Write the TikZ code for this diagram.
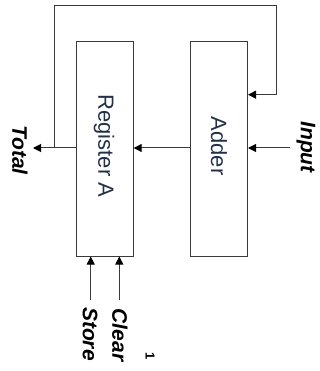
\documentclass[tikz,border=0pt]{standalone}
\usepackage{fontspec}
\setmainfont{Liberation Sans}
\usetikzlibrary{arrows.meta}
\definecolor{linec}{HTML}{3A3A3A}
\definecolor{blocktext}{HTML}{22304A}
\begin{document}
\begin{tikzpicture}[x=1pt,y=-1pt,
  blockbox/.style={draw=linec,line width=1pt,minimum width=57pt,minimum height=214pt,inner sep=0pt},
  blocklabel/.style={rotate=-90,text=blocktext,font=\fontsize{22}{24}\selectfont,inner sep=0pt},
  siglabel/.style={rotate=-90,font=\fontsize{21}{23}\selectfont\bfseries\itshape,inner sep=0pt},
  wire/.style={draw=linec,line width=1pt},
  arr/.style={wire,-{Triangle[length=8pt,width=8pt,fill=black,color=black]}}]
\useasboundingbox (0,0) rectangle (320,371);
% boxes
\node[blockbox] (reg) at (104.7,149) {};
\node[blockbox] (add) at (219,149) {};
\node[blocklabel] (regt) at (104,146) {Register A};
\node[blocklabel] (addt) at (219,146) {Adder};
% labels
\node[siglabel] (total) at (20,150) {Total};
\node[siglabel] (input) at (306,147) {Input};
\node[siglabel] (store) at (90,334) {Store};
\node[siglabel] (clear) at (120,335) {Clear};
\node[rotate=-90,font=\fontsize{13}{14}\selectfont\bfseries,inner sep=0pt] (mark) at (150,356) {1};
% coordinates
\coordinate (tot) at (33,148);
\coordinate (inp) at (290,148);
\coordinate (fb) at (54.3,148);
\coordinate (st) at (90.7,300);
\coordinate (cl) at (119.3,300);
% connectors
\draw[arr] (add.west |- 0,148) -- (reg.east |- 0,148);
\draw[arr] (reg.west |- 0,148) -- (tot);
\draw[arr] (inp) -- (add.east |- 0,148);
\draw[arr] (fb) -- (54.3,5.7) -- (276,5.7) -- (276,94.7) -- (add.east |- 0,94.7);
\draw[arr] (st) -- (st |- reg.south);
\draw[arr] (cl) -- (cl |- reg.south);
\end{tikzpicture}
\end{document}
